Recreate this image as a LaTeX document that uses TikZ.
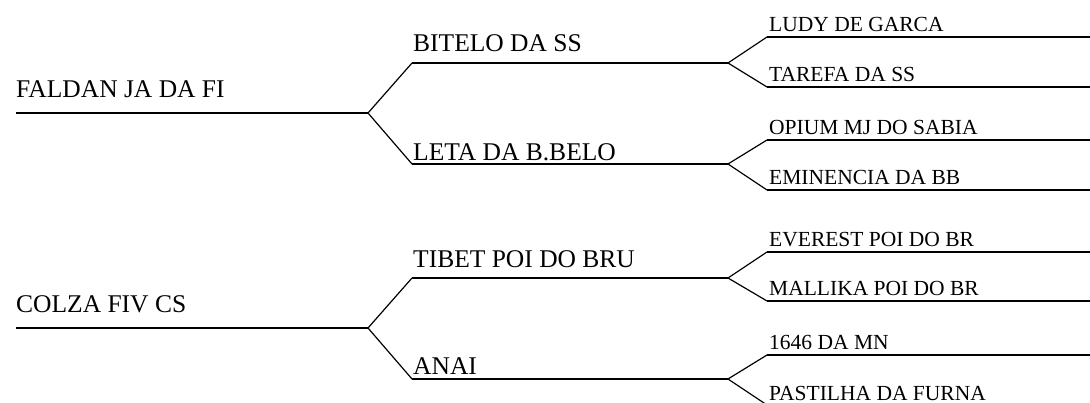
\documentclass[tikz,border=0pt]{standalone}
\usepackage{fontspec}
\setmainfont{Liberation Serif}
\begin{document}
\begin{tikzpicture}[x=1pt,y=-1pt,
  link/.style={line width=1.2pt, black},
  bigname/.style={anchor=base west, inner sep=0pt, font=\fontsize{25.5}{30}\selectfont},
  smallname/.style={anchor=base west, inner sep=0pt, font=\fontsize{21.5}{25}\selectfont}]
\useasboundingbox (0,0) rectangle (1090,403);
% ---- generation 1
\coordinate (g1a) at (16,113);  \coordinate (g1ae) at (368,113);
\coordinate (g1b) at (16,328);  \coordinate (g1be) at (368,328);
% ---- generation 2
\coordinate (g2a) at (412,63);  \coordinate (g2ae) at (728,63);
\coordinate (g2b) at (412,164); \coordinate (g2be) at (728,164);
\coordinate (g2c) at (412,278); \coordinate (g2ce) at (728,278);
\coordinate (g2d) at (412,379); \coordinate (g2de) at (728,379);
% ---- generation 3
\coordinate (g3a) at (767,37);  \coordinate (g3ae) at (1090,37);
\coordinate (g3b) at (767,87);  \coordinate (g3be) at (1090,87);
\coordinate (g3c) at (767,140); \coordinate (g3ce) at (1090,140);
\coordinate (g3d) at (767,190); \coordinate (g3de) at (1090,190);
\coordinate (g3e) at (767,252); \coordinate (g3ee) at (1090,252);
\coordinate (g3f) at (767,301); \coordinate (g3fe) at (1090,301);
\coordinate (g3g) at (767,355); \coordinate (g3ge) at (1090,355);
\coordinate (g3h) at (767,405); \coordinate (g3he) at (1090,405);
% ---- lines
\draw[link] (g1a) -- (g1ae);
\draw[link] (g1b) -- (g1be);
\draw[link] (g2a) -- (g2ae);
\draw[link] (g2b) -- (g2be);
\draw[link] (g2c) -- (g2ce);
\draw[link] (g2d) -- (g2de);
\foreach \n in {a,b,c,d,e,f,g,h} { \draw[link] (g3\n) -- (g3\n e); }
% ---- forks
\draw[link] (g2a) -- (g1ae) -- (g2b);
\draw[link] (g2c) -- (g1be) -- (g2d);
\draw[link] (g3a) -- (g2ae) -- (g3b);
\draw[link] (g3c) -- (g2be) -- (g3d);
\draw[link] (g3e) -- (g2ce) -- (g3f);
\draw[link] (g3g) -- (g2de) -- (g3h);
% ---- names
\node[bigname] (n1) at (16,98) {FALDAN JA DA FI};
\node[bigname] (n2) at (16,313) {COLZA FIV CS};
\node[bigname] (n3) at (413,52) {BITELO DA SS};
\node[bigname] (n4) at (413,161) {LETA DA B.BELO};
\node[bigname] (n5) at (413,268) {TIBET POI DO BRU};
\node[bigname] (n6) at (413,374) {ANAI};
\node[smallname] (m1) at (769,32) {LUDY DE GARCA};
\node[smallname] (m2) at (769,82) {TAREFA DA SS};
\node[smallname] (m3) at (769,135) {OPIUM MJ DO SABIA};
\node[smallname] (m4) at (769,185) {EMINENCIA DA BB};
\node[smallname] (m5) at (769,247) {EVEREST POI DO BR};
\node[smallname] (m6) at (769,296) {MALLIKA POI DO BR};
\node[smallname] (m7) at (769,350) {1646 DA MN};
\node[smallname] (m8) at (769,400) {PASTILHA DA FURNA};
\end{tikzpicture}
\end{document}
